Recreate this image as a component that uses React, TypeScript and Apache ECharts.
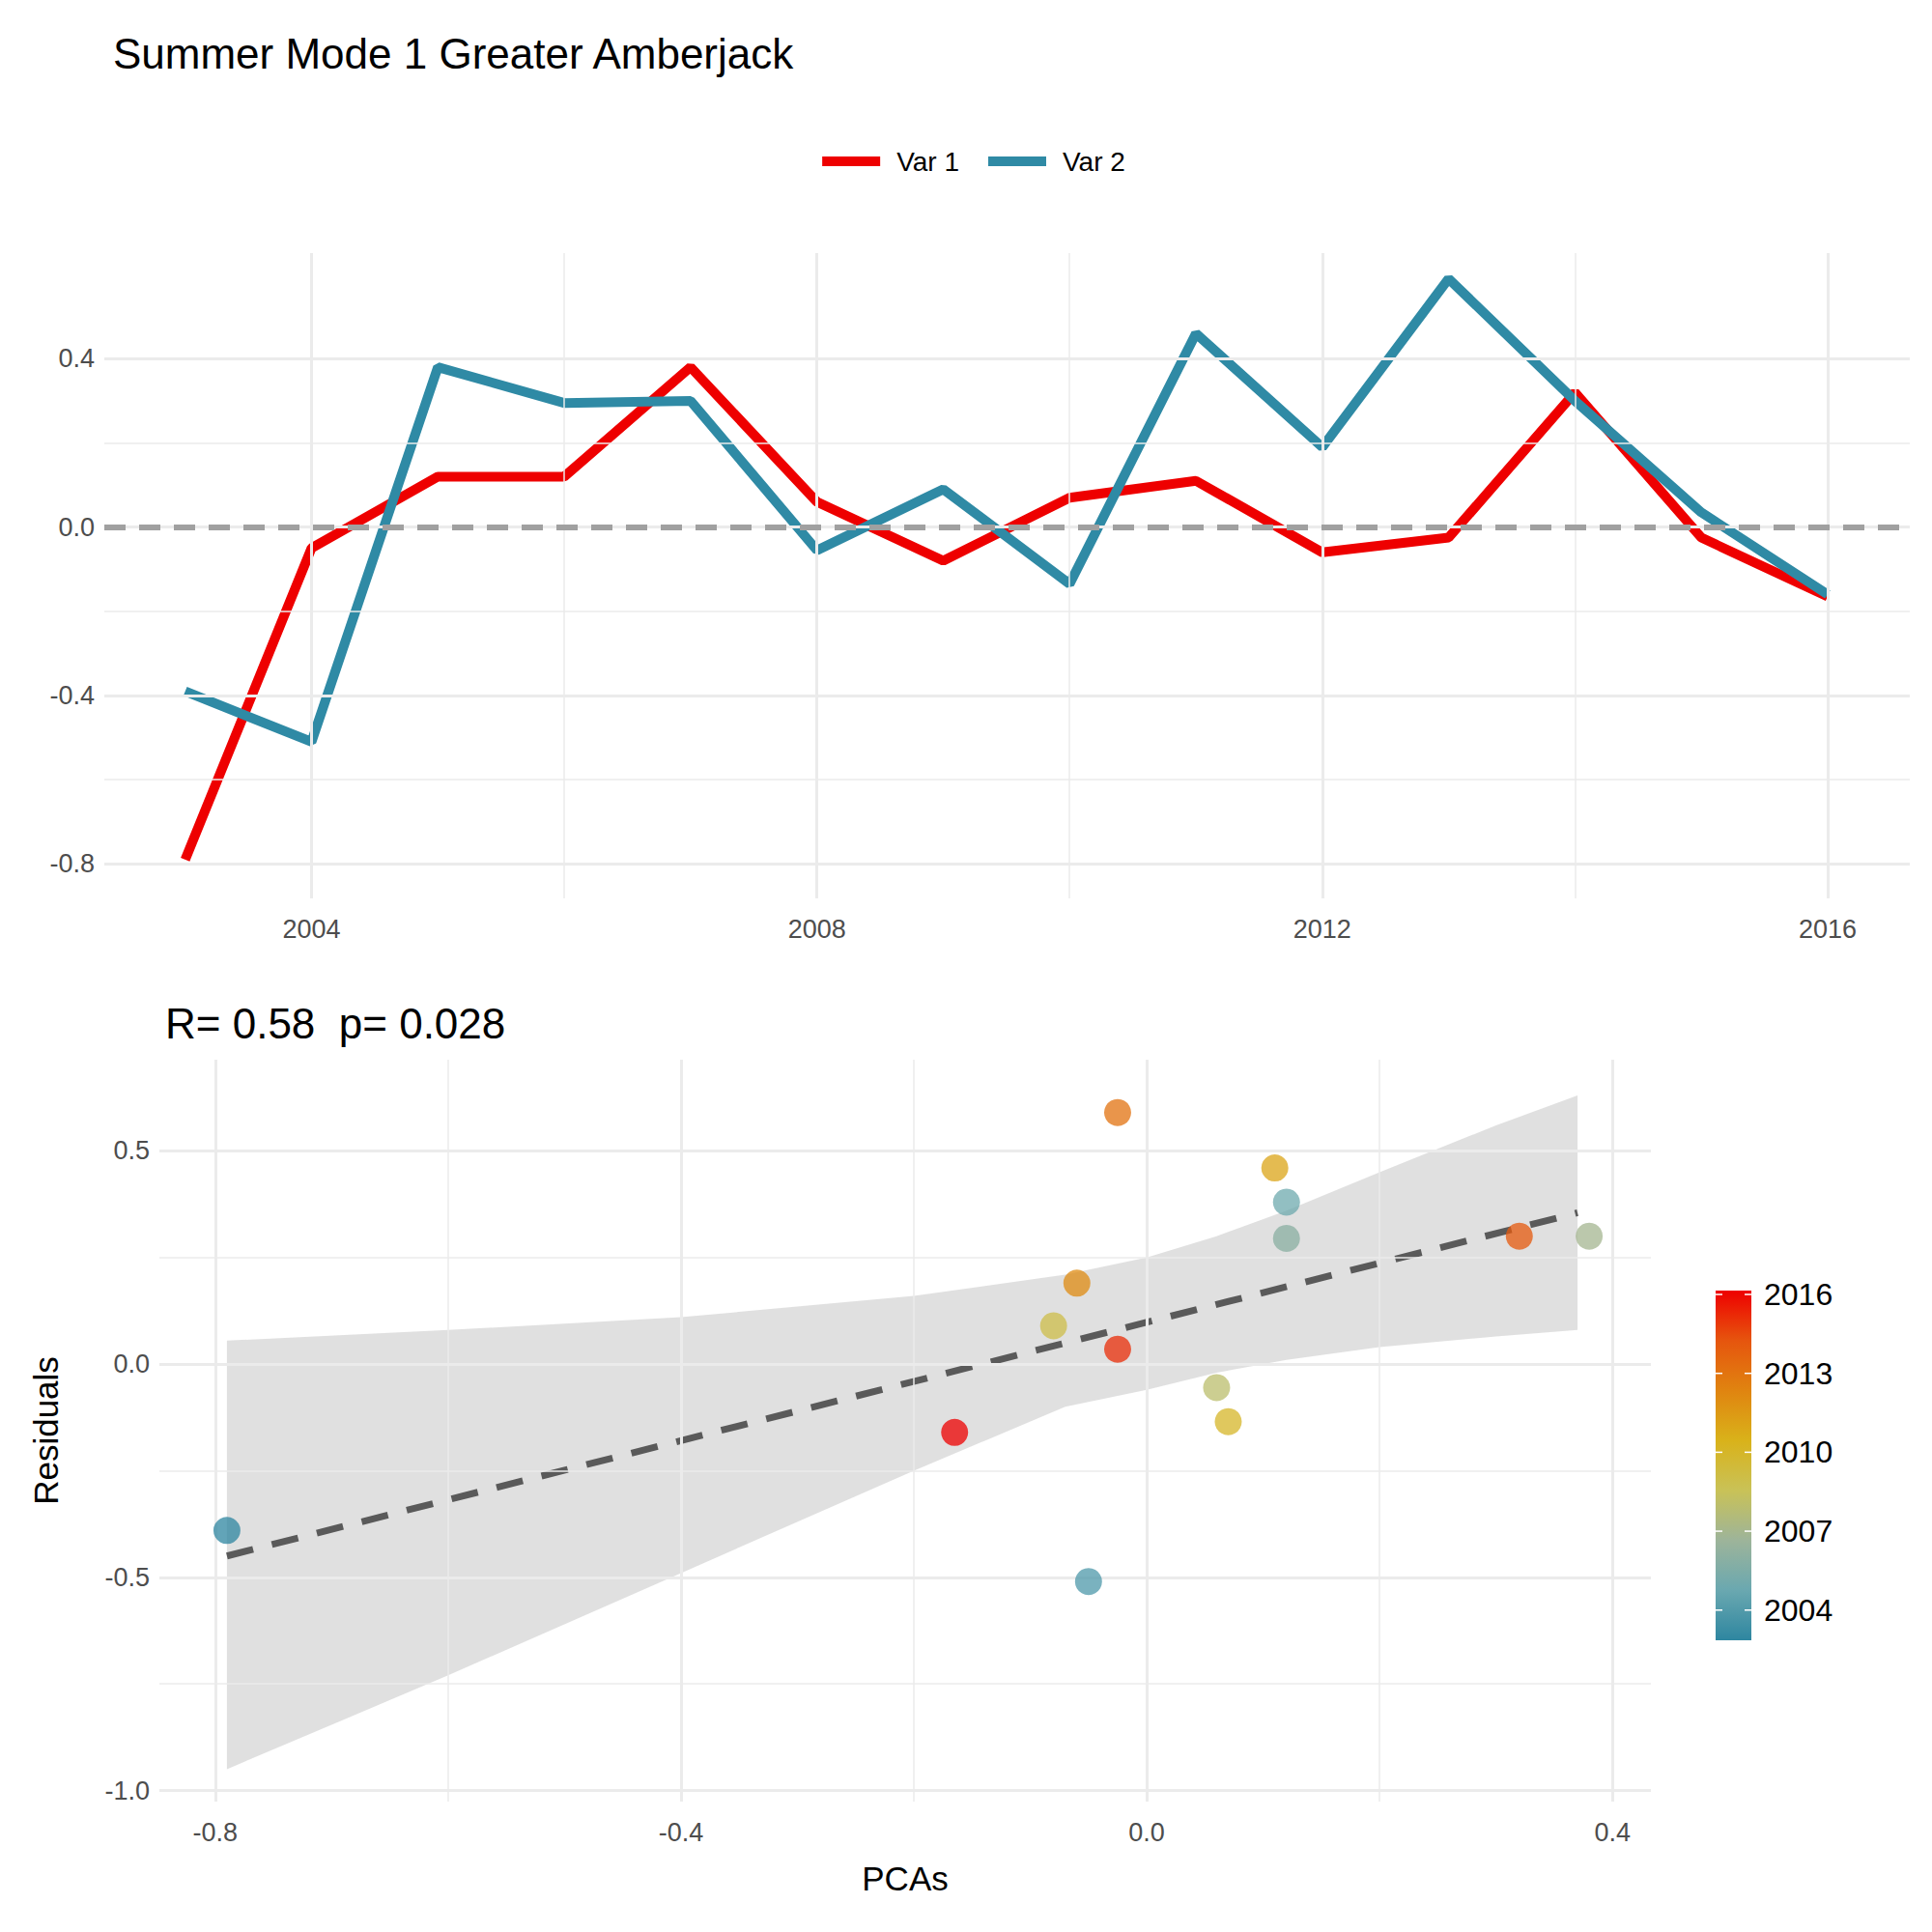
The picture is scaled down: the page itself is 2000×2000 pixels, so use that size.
import React, { useEffect, useRef } from 'react';
import * as echarts from 'echarts';

const years = [2003, 2004, 2005, 2006, 2007, 2008, 2009, 2010, 2011, 2012, 2013, 2014, 2015, 2016];
const var1 = [-0.79, -0.05, 0.12, 0.12, 0.38, 0.06, -0.08, 0.07, 0.11, -0.06, -0.025, 0.32, -0.025, -0.165];
const var2 = [-0.39, -0.51, 0.38, 0.295, 0.3, -0.055, 0.09, -0.135, 0.46, 0.19, 0.59, 0.3, 0.035, -0.16];

const fitLine = [[-0.79, -0.45], [0.37, 0.355]];
const bandX = [-0.79, -0.6, -0.4, -0.2, -0.07, 0, 0.06, 0.12, 0.2, 0.3, 0.37];
const bandUpper = [0.055, 0.08, 0.11, 0.16, 0.21, 0.25, 0.3, 0.36, 0.45, 0.56, 0.63];
const bandLower = [-0.95, -0.73, -0.49, -0.25, -0.1, -0.06, -0.02, 0.01, 0.04, 0.065, 0.08];

const topXTicks = [2004, 2008, 2012, 2016];
const topXMinor = [2006, 2010, 2014];
const topYTicks = [-0.8, -0.4, 0, 0.4];
const topYMinor = [-0.6, -0.2, 0.2];
const botXTicks = [-0.8, -0.4, 0, 0.4];
const botXMinor = [-0.6, -0.2, 0.2];
const botYTicks = [-1, -0.5, 0, 0.5];
const botYMinor = [-0.75, -0.25, 0.25];
const legendYears = [2004, 2007, 2010, 2013, 2016];
const yearColors = ['#2E86A0', '#6AA8B0', '#9DB49A', '#C9C257', '#D9B21A', '#E08410', '#E6550E', '#EE0000'];

const RED = '#EE0000';
const BLUE = '#2F8AA5';
const GRID = '#EBEBEB';

const gridLines = (idx: number, xs: number[], xm: number[], ys: number[], ym: number[]) => ({
  type: 'line',
  xAxisIndex: idx,
  yAxisIndex: idx,
  data: [],
  z: 0,
  silent: true,
  markLine: {
    silent: true,
    symbol: ['none', 'none'],
    label: { show: false },
    animation: false,
    data: [
      ...xm.map((v) => ({ xAxis: v, lineStyle: { color: GRID, width: 1.5, type: 'solid' } })),
      ...ym.map((v) => ({ yAxis: v, lineStyle: { color: GRID, width: 1.5, type: 'solid' } })),
      ...xs.map((v) => ({ xAxis: v, lineStyle: { color: GRID, width: 3, type: 'solid' } })),
      ...ys.map((v) => ({ yAxis: v, lineStyle: { color: GRID, width: 3, type: 'solid' } })),
    ],
  },
});

const fmt = (v: number) => (Number.isInteger(v * 10) ? v.toFixed(1) : String(v));

const App: React.FC = () => {
  const ref = useRef<HTMLDivElement>(null);
  useEffect(() => {
    const chart = echarts.init(ref.current as HTMLDivElement, undefined, { renderer: 'svg' });
    const tickLabel = { color: '#4D4D4D', fontSize: 27, fontFamily: 'Liberation Sans' };
    const barX = 1768;
    const barTop = 1328;
    const barH = 362;
    const yearY = (y: number) => barTop + 4 + ((2016 - y) / 13) * (barH - 8);
    const option: any = {
      animation: false,
      textStyle: { fontFamily: 'Liberation Sans' },
      title: [
        { text: 'Summer Mode 1 Greater Amberjack', left: 104, top: 20, textStyle: { fontSize: 44, fontWeight: 'normal', color: '#000' } },
        { text: 'R= 0.58  p= 0.028', left: 158, top: 1024, textStyle: { fontSize: 44, fontWeight: 'normal', color: '#000' } },
      ],
      legend: {
        top: 140,
        left: 'center',
        itemWidth: 60,
        itemHeight: 10,
        itemGap: 30,
        textStyle: { fontSize: 28, color: '#000', padding: [0, 0, 0, 12] },
        data: [
          { name: 'Var 1', icon: 'rect', itemStyle: { color: RED } },
          { name: 'Var 2', icon: 'rect', itemStyle: { color: BLUE } },
        ],
      },
      grid: [
        { left: 100, right: 31, top: 254, height: 668 },
        { left: 157, right: 299, top: 1089, height: 768 },
      ],
      xAxis: [
        {
          type: 'value', gridIndex: 0, min: 2002.36, max: 2016.65,
          splitLine: { show: false }, axisLine: { show: false }, axisTick: { show: false },
          axisLabel: { ...tickLabel, customValues: topXTicks, formatter: (v: number) => String(v), margin: 18 },
        },
        {
          type: 'value', gridIndex: 1, min: -0.848, max: 0.433,
          splitLine: { show: false }, axisLine: { show: false }, axisTick: { show: false },
          axisLabel: { ...tickLabel, customValues: botXTicks, formatter: fmt, margin: 18 },
          name: 'PCAs', nameLocation: 'middle', nameGap: 62, nameTextStyle: { fontSize: 35, color: '#000' },
        },
      ],
      yAxis: [
        {
          type: 'value', gridIndex: 0, min: -0.882, max: 0.651,
          splitLine: { show: false }, axisLine: { show: false }, axisTick: { show: false },
          axisLabel: { ...tickLabel, customValues: topYTicks, formatter: fmt, margin: 10 },
        },
        {
          type: 'value', gridIndex: 1, min: -1.026, max: 0.714,
          splitLine: { show: false }, axisLine: { show: false }, axisTick: { show: false },
          axisLabel: { ...tickLabel, customValues: botYTicks, formatter: fmt, margin: 10 },
          name: 'Residuals', nameLocation: 'middle', nameGap: 100, nameTextStyle: { fontSize: 35, color: '#000' },
        },
      ],
      series: [
        gridLines(0, topXTicks, topXMinor, topYTicks, topYMinor),
        gridLines(1, botXTicks, botXMinor, botYTicks, botYMinor),
        {
          type: 'line', xAxisIndex: 0, yAxisIndex: 0, data: [], z: 1, silent: true,
          markLine: {
            silent: true, symbol: ['none', 'none'], label: { show: false },
            data: [{ yAxis: 0, lineStyle: { color: '#A0A0A0', width: 6, type: [22, 14] } }],
          },
        },
        {
          name: 'Var 1', type: 'line', xAxisIndex: 0, yAxisIndex: 0, z: 3, showSymbol: false,
          data: years.map((y, i) => [y, var1[i]]), lineStyle: { color: RED, width: 10 }, itemStyle: { color: RED },
        },
        {
          name: 'Var 2', type: 'line', xAxisIndex: 0, yAxisIndex: 0, z: 4, showSymbol: false,
          data: years.map((y, i) => [y, var2[i]]), lineStyle: { color: BLUE, width: 10 }, itemStyle: { color: BLUE },
        },
        {
          type: 'custom', xAxisIndex: 1, yAxisIndex: 1, z: 2, silent: true,
          data: [0],
          renderItem: (_p: any, api: any) => {
            const pts = [
              ...bandX.map((x, i) => api.coord([x, bandUpper[i]])),
              ...bandX.map((x, i) => api.coord([x, bandLower[i]])).reverse(),
            ];
            return { type: 'polygon', shape: { points: pts }, style: { fill: 'rgba(153,153,153,0.3)' } };
          },
        },
        {
          type: 'line', xAxisIndex: 1, yAxisIndex: 1, z: 3, showSymbol: false, silent: true,
          data: fitLine, lineStyle: { color: '#5A5A5A', width: 7, type: [28, 20] },
        },
        {
          type: 'scatter', xAxisIndex: 1, yAxisIndex: 1, z: 5, symbolSize: 28,
          data: years.map((y, i) => [var1[i], var2[i], y]),
          itemStyle: { opacity: 0.75 },
        },
      ],
      visualMap: {
        show: false, type: 'continuous', dimension: 2, min: 2003, max: 2016, seriesIndex: 7,
        inRange: { color: yearColors },
      },
      graphic: [
        {
          type: 'rect', shape: { x: barX, y: barTop, width: 37, height: barH },
          style: {
            fill: new echarts.graphic.LinearGradient(0, 1, 0, 0,
              yearColors.map((c, i) => ({ offset: i / (yearColors.length - 1), color: c }))),
          },
        },
        ...legendYears.flatMap((y) => [
          { type: 'line', shape: { x1: barX, y1: yearY(y), x2: barX + 7, y2: yearY(y) }, style: { stroke: '#fff', lineWidth: 1.5 } },
          { type: 'line', shape: { x1: barX + 30, y1: yearY(y), x2: barX + 37, y2: yearY(y) }, style: { stroke: '#fff', lineWidth: 1.5 } },
          {
            type: 'text', x: barX + 50, y: yearY(y),
            style: { text: String(y), fontSize: 32, fill: '#000', verticalAlign: 'middle', fontFamily: 'Liberation Sans' },
          },
        ]),
      ],
    };
    chart.setOption(option);
    return () => chart.dispose();
  }, []);
  return <div ref={ref} style={{ width: 2000, height: 2000 }} />;
};

export default App;
